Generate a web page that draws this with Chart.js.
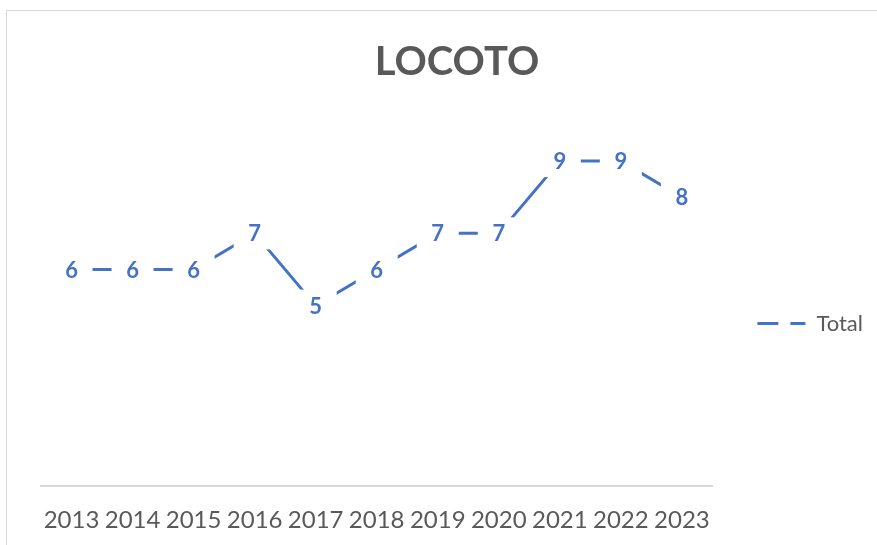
<!DOCTYPE html>
<html>
<head>
<meta charset="utf-8">
<script src="https://cdn.jsdelivr.net/npm/chart.js@4/dist/chart.umd.min.js"></script>
<style>
    html, body { margin: 0; padding: 0; background: #ffffff; overflow: hidden; }
    #frame {
        position: absolute;
        left: 6px;
        top: 10px;
        width: 875px;
        height: 556px;
        border: 1px solid #d9d9d9;
        background: #ffffff;
    }
</style>
</head>
<body>
<div id="frame"><canvas id="chart" width="875" height="556"></canvas></div>
<script>
    const years = ['2013', '2014', '2015', '2016', '2017', '2018', '2019', '2020', '2021', '2022', '2023'];
    const totals = [6, 6, 6, 7, 5, 6, 7, 7, 9, 9, 8];

    const LINE_COLOR = '#4472C4';
    const TEXT_COLOR = '#595959';

    // labels sit on the points with a white box that hides the line underneath
    const pointLabels = {
        id: 'pointLabels',
        afterDatasetsDraw(chart) {
            const ctx = chart.ctx;
            const meta = chart.getDatasetMeta(0);
            ctx.save();
            ctx.font = "bold 22px Lato, sans-serif";
            ctx.textAlign = 'center';
            ctx.textBaseline = 'middle';
            meta.data.forEach((pt, i) => {
                ctx.fillStyle = '#ffffff';
                ctx.fillRect(pt.x - 21, pt.y - 16, 42, 32);
                ctx.fillStyle = LINE_COLOR;
                ctx.fillText(String(totals[i]), pt.x, pt.y + 1);
            });
            ctx.restore();
        }
    };

    new Chart(document.getElementById('chart').getContext('2d'), {
        type: 'line',
        data: {
            labels: years,
            datasets: [{
                label: 'Total',
                data: totals,
                borderColor: LINE_COLOR,
                backgroundColor: LINE_COLOR,
                borderWidth: 3,
                pointRadius: 0,
                tension: 0
            }]
        },
        options: {
            responsive: false,
            animation: false,
            layout: { padding: { left: 34, right: 9, top: 0, bottom: 12 } },
            plugins: {
                title: {
                    display: true,
                    text: 'LOCOTO',
                    color: TEXT_COLOR,
                    font: { family: 'Lato, sans-serif', size: 40, weight: 'bold' },
                    padding: { top: 27, bottom: 39 }
                },
                legend: {
                    position: 'right',
                    fullSize: false,
                    // empty title only pushes the entry down a little
                    title: { display: true, text: '', font: { size: 10 }, padding: 12 },
                    labels: {
                        color: TEXT_COLOR,
                        font: { family: 'Lato, sans-serif', size: 22 },
                        padding: 45,
                        usePointStyle: true,
                        pointStyle: 'line',
                        pointStyleWidth: 48,
                        generateLabels(chart) {
                            const items = Chart.defaults.plugins.legend.labels.generateLabels(chart);
                            items.forEach(it => { it.lineDash = [21, 12]; it.lineWidth = 3; });
                            return items;
                        }
                    }
                },
                tooltip: { enabled: false }
            },
            scales: {
                x: {
                    offset: true,
                    grid: { display: false, drawTicks: false },
                    border: { display: true, color: '#d9d9d9', width: 2 },
                    ticks: {
                        color: TEXT_COLOR,
                        font: { family: 'Lato, sans-serif', size: 24 },
                        padding: 20,
                        maxRotation: 0,
                        autoSkip: false
                    }
                },
                y: {
                    display: false,
                    min: 0,
                    max: 10
                }
            }
        },
        plugins: [pointLabels]
    });
</script>
</body>
</html>
